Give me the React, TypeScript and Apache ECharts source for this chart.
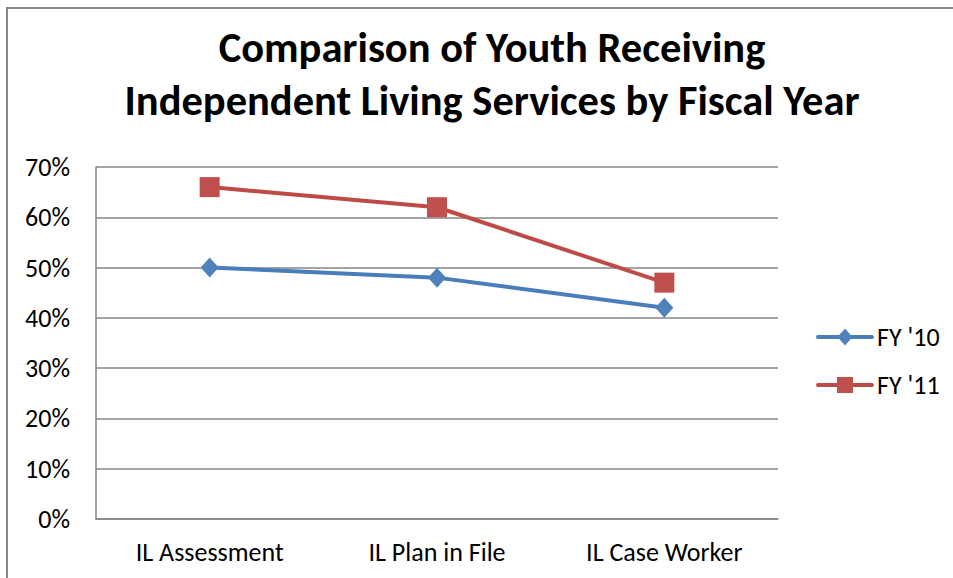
import React, { useEffect, useRef } from "react";
import * as echarts from "echarts";

const categories = ["IL Assessment", "IL Plan in File", "IL Case Worker"];
const fy10 = [50, 48, 42];
const fy11 = [66, 62, 47];
const seriesNames = ["FY '10", "FY '11"];
const titleLines = ["Comparison of Youth Receiving", "Independent Living Services by Fiscal Year"];

const FONT = "Carlito, Lato, 'Open Sans', sans-serif";
const BLUE_LINE = "#4A7EBB";
const BLUE = "#4F81BD";
const RED_LINE = "#BE4B48";
const RED = "#C0504D";

export default function App() {
  const ref = useRef<HTMLDivElement>(null);
  useEffect(() => {
    if (!ref.current) return;
    const chart = echarts.init(ref.current, null, { renderer: "svg" });
    const lx0 = 818;
    const lx1 = 872;
    const lcx = 845;
    const y1 = 337;
    const y2 = 385;
    chart.setOption({
      animation: false,
      backgroundColor: "#ffffff",
      textStyle: { fontFamily: FONT },
      title: {
        text: titleLines.join("\n"),
        left: 487,
        textAlign: "center",
        top: 16,
        textStyle: {
          fontFamily: FONT,
          fontSize: 42.5,
          fontWeight: "bold",
          color: "#000",
          lineHeight: 53,
        },
      },
      graphic: [
        {
          type: "rect",
          shape: { x: 7, y: 8, width: 1000, height: 700 },
          style: { fill: "none", stroke: "#878787", lineWidth: 2 },
          silent: true,
          z: -1,
        },
        {
          type: "line",
          shape: { x1: lx0, y1: y1, x2: lx1, y2: y1 },
          style: { stroke: BLUE_LINE, lineWidth: 4, lineCap: "round" },
        },
        {
          type: "polygon",
          shape: { points: [[lcx, y1 - 8.5], [lcx + 7.5, y1], [lcx, y1 + 8.5], [lcx - 7.5, y1]] },
          style: { fill: BLUE },
        },
        {
          type: "text",
          style: { text: seriesNames[0], x: 877, y: y1, verticalAlign: "middle", fontFamily: FONT, fontSize: 26, fill: "#000" },
        },
        {
          type: "line",
          shape: { x1: lx0, y1: y2, x2: lx1, y2: y2 },
          style: { stroke: RED_LINE, lineWidth: 4, lineCap: "round" },
        },
        {
          type: "rect",
          shape: { x: lcx - 8, y: y2 - 8, width: 16, height: 16 },
          style: { fill: RED },
        },
        {
          type: "text",
          style: { text: seriesNames[1], x: 877, y: y2, verticalAlign: "middle", fontFamily: FONT, fontSize: 26, fill: "#000" },
        },
      ],
      grid: { left: 96, top: 167, right: 175, bottom: 59, containLabel: false },
      xAxis: {
        type: "category",
        data: categories,
        boundaryGap: true,
        axisLine: { lineStyle: { color: "#868686", width: 1.5 } },
        axisTick: { show: false },
        axisLabel: { color: "#000", fontSize: 26, fontFamily: FONT, margin: 20 },
        splitLine: { show: false },
      },
      yAxis: {
        type: "value",
        min: 0,
        max: 70,
        interval: 10,
        axisLine: { show: true, lineStyle: { color: "#868686", width: 1.5 } },
        axisTick: { show: false },
        axisLabel: { color: "#000", fontSize: 26, fontFamily: FONT, formatter: "{value}%", margin: 26 },
        splitLine: { lineStyle: { color: "#868686", width: 1.5 } },
      },
      series: [
        {
          name: seriesNames[0],
          type: "line",
          data: fy10,
          symbol: "diamond",
          symbolSize: [18, 20],
          lineStyle: { color: BLUE_LINE, width: 4 },
          itemStyle: { color: BLUE },
        },
        {
          name: seriesNames[1],
          type: "line",
          data: fy11,
          symbol: "rect",
          symbolSize: 20,
          lineStyle: { color: RED_LINE, width: 4 },
          itemStyle: { color: RED },
        },
      ],
    });
    return () => chart.dispose();
  }, []);
  return (
    <div
      ref={ref}
      style={{ position: "fixed", left: 0, top: 0, width: 953, height: 578 }}
    />
  );
}
